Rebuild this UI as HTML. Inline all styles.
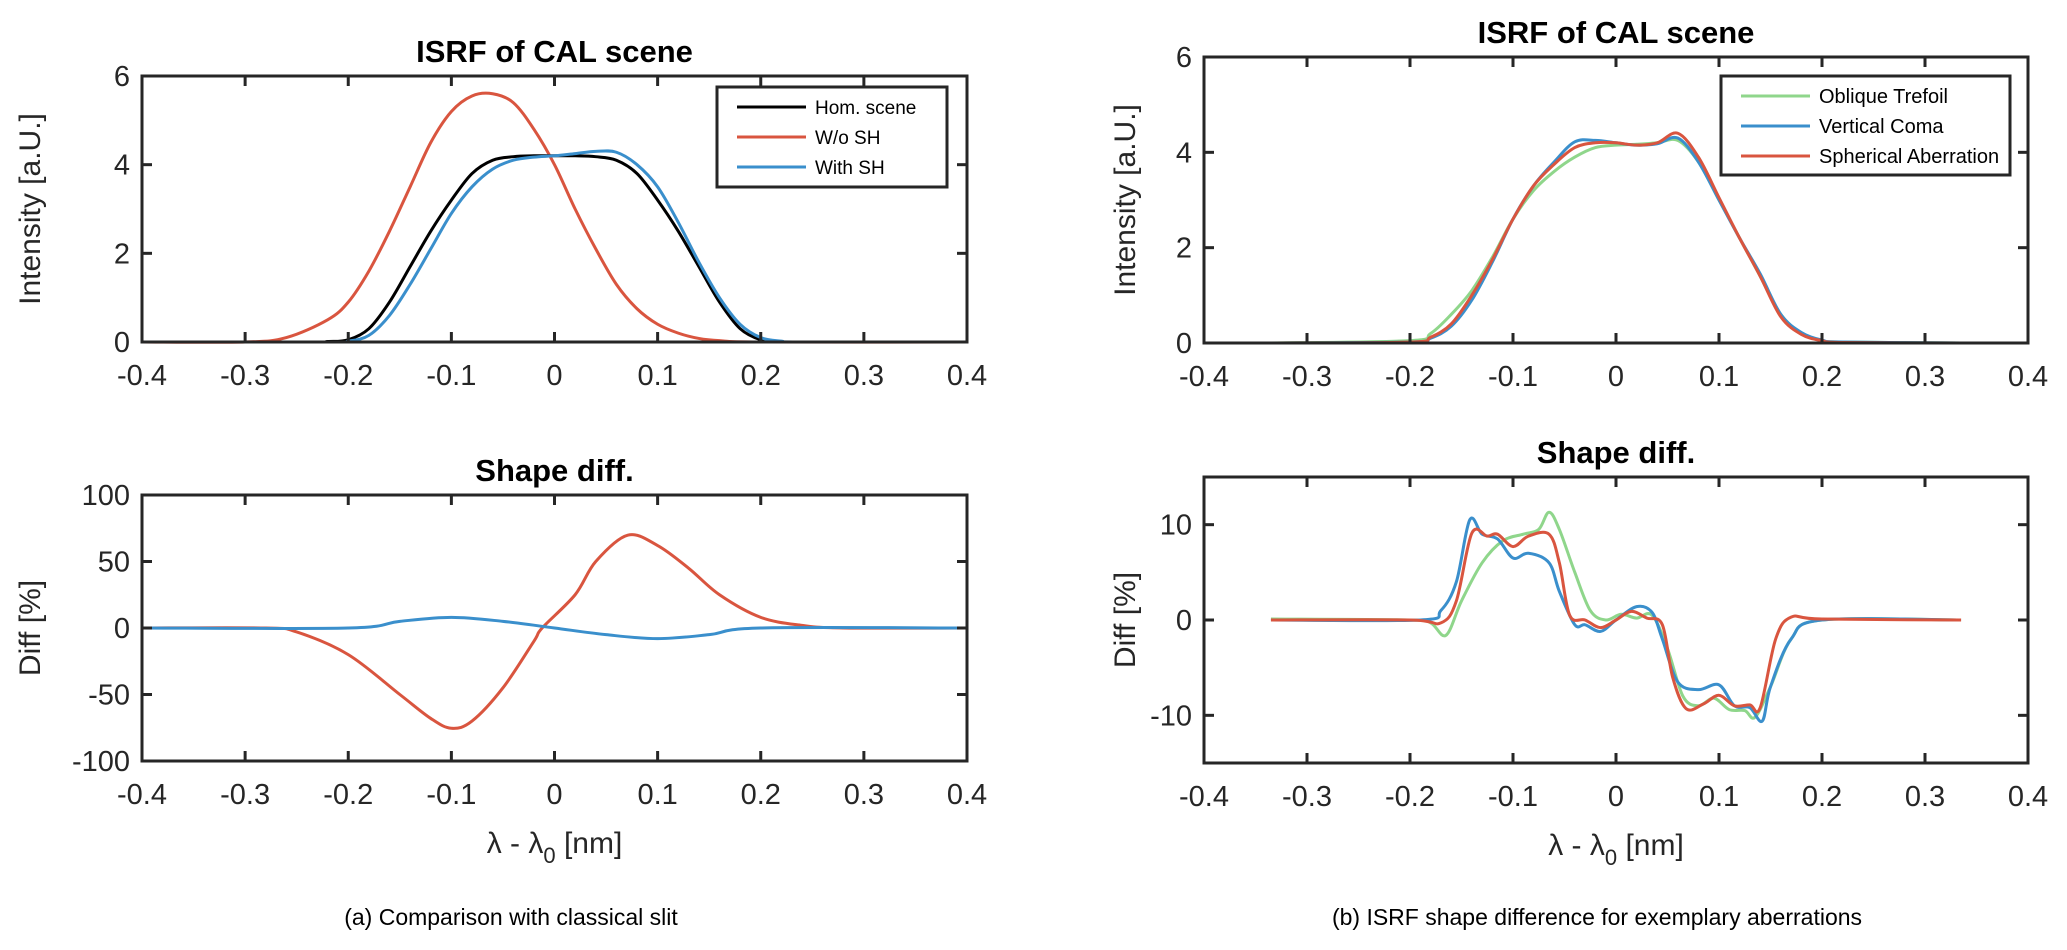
<!DOCTYPE html>
<html><head><meta charset="utf-8"><style>
html,body{margin:0;padding:0;background:#fff;}
svg{display:block;font-family:"Liberation Sans",Arial,sans-serif;}
</style></head><body>
<svg id="fig" width="2067" height="950" viewBox="0 0 2067 950" xmlns="http://www.w3.org/2000/svg"></svg>
<script>
// ---------- data ----------
const xTicks = [-0.4,-0.3,-0.2,-0.1,0,0.1,0.2,0.3,0.4];
const xTickLabels = ["-0.4","-0.3","-0.2","-0.1","0","0.1","0.2","0.3","0.4"];
const yTicksIsrf = [0,2,4,6];
const yTicksDiffA = [-100,-50,0,50,100];
const yTicksDiffB = [-10,0,10];

// (a) top
const homX = [-0.4,-0.24,-0.22,-0.2,-0.18,-0.16,-0.14,-0.12,-0.1,-0.08,-0.06,-0.04,-0.02,0,0.02,0.04,0.06,0.08,0.1,0.12,0.14,0.16,0.18,0.2,0.22,0.24,0.4];
const homY = [0,0,0.01,0.05,0.3,0.9,1.7,2.5,3.2,3.8,4.1,4.18,4.2,4.2,4.2,4.18,4.1,3.8,3.2,2.5,1.7,0.9,0.3,0.05,0.01,0,0];
const woX = [-0.4,-0.3,-0.26,-0.22,-0.2,-0.18,-0.16,-0.14,-0.12,-0.1,-0.08,-0.06,-0.04,-0.02,0,0.02,0.04,0.06,0.08,0.1,0.12,0.14,0.16,0.2,0.4];
const woY = [0,0,0.1,0.5,0.9,1.6,2.5,3.5,4.5,5.2,5.55,5.6,5.4,4.8,4.0,3.0,2.1,1.3,0.75,0.4,0.2,0.08,0.03,0,0];
const wiX = [-0.4,-0.22,-0.2,-0.18,-0.16,-0.14,-0.12,-0.1,-0.08,-0.06,-0.04,-0.02,0,0.02,0.04,0.06,0.08,0.1,0.12,0.14,0.16,0.18,0.2,0.22,0.24,0.4];
const wiY = [0,0,0.02,0.15,0.6,1.3,2.1,2.9,3.5,3.9,4.1,4.17,4.2,4.25,4.3,4.28,4.0,3.5,2.7,1.8,1.0,0.4,0.1,0.02,0,0];
// (a) bottom
const dRedX = [-0.4,-0.28,-0.25,-0.2,-0.15,-0.12,-0.1,-0.08,-0.05,-0.02,-0.012,0.02,0.04,0.071,0.1,0.13,0.16,0.2,0.24,0.28,0.4];
const dRedY = [0,0,-3,-20,-50,-68,-75.4,-70,-45,-10,0,25,50,69.8,62,45,25,8,2,0,0];
const dBluX = [-0.4,-0.2,-0.15,-0.1,-0.05,0,0.05,0.1,0.15,0.2,0.4];
const dBluY = [0,0,5,8,5,0,-5,-8,-5,0,0];

// (b) top
const tX = [-0.335,-0.2,-0.18,-0.16,-0.14,-0.12,-0.1,-0.08,-0.06,-0.04,-0.02,0,0.02,0.04,0.06,0.08,0.1,0.12,0.14,0.16,0.18,0.2,0.22,0.335];
const trefY = [0,0.05,0.2,0.6,1.1,1.8,2.6,3.2,3.6,3.9,4.1,4.15,4.17,4.2,4.25,3.8,3.0,2.2,1.4,0.6,0.2,0.05,0.02,0];
const comaY = [0,0.02,0.1,0.35,0.9,1.7,2.6,3.3,3.8,4.22,4.25,4.2,4.15,4.18,4.3,3.8,3.0,2.2,1.45,0.6,0.22,0.06,0.02,0];
const sphY = [0,0.02,0.12,0.4,1.0,1.75,2.6,3.3,3.75,4.1,4.2,4.2,4.15,4.2,4.4,3.9,3.05,2.2,1.4,0.55,0.18,0.05,0.01,0];
// (b) bottom
const bBluX = [-0.335,-0.19,-0.17,-0.155,-0.142,-0.13,-0.115,-0.1,-0.085,-0.065,-0.055,-0.04,-0.03,-0.015,0,0.02,0.035,0.045,0.06,0.08,0.1,0.115,0.13,0.142,0.15,0.17,0.2,0.335];
const bBluY = [0,0,1,4,10.5,9,8.5,6.5,7,6,3,-0.5,-0.5,-1.2,0,1.4,0.8,-2,-6.5,-7.3,-6.8,-9,-9.2,-10.6,-7,-2,0,0];
const bRedX = [-0.335,-0.2,-0.17,-0.155,-0.14,-0.125,-0.115,-0.1,-0.085,-0.065,-0.055,-0.045,-0.03,-0.015,0,0.015,0.03,0.045,0.055,0.068,0.085,0.1,0.115,0.13,0.14,0.155,0.17,0.2,0.335];
const bRedY = [0,0,-0.3,2,9.1,8.8,9,7.7,8.8,9,6,0.5,0,-0.8,0,0.9,0.2,-0.5,-6,-9.3,-8.8,-7.9,-9,-8.9,-9.2,-2,0.3,0.1,0];
const bGrnX = [-0.335,-0.2,-0.18,-0.165,-0.15,-0.13,-0.11,-0.09,-0.075,-0.065,-0.055,-0.04,-0.025,-0.01,0.005,0.02,0.035,0.05,0.065,0.08,0.095,0.11,0.125,0.135,0.15,0.17,0.2,0.335];
const bGrnY = [0.1,0,-0.3,-1.6,2,6,8.3,9,9.5,11.3,9.5,5,1,0,0.6,0.2,0.5,-3,-8,-9,-8.2,-9.4,-9.5,-10.2,-7,-2,0,0];

const RED="#d9553f", BLUE="#3a8fcc", GREEN="#8fd68b", BLACK="#000";
const NS="http://www.w3.org/2000/svg";
const svg=document.getElementById('fig');
function mk(tag,attrs,parent){const e=document.createElementNS(NS,tag);for(const k in attrs)e.setAttribute(k,attrs[k]);(parent||svg).appendChild(e);return e;}
function txt(s,attrs,parent){const e=mk('text',attrs,parent);e.textContent=s;return e;}

function smoothPath(pts){
  let d=`M${pts[0][0].toFixed(2)},${pts[0][1].toFixed(2)}`;
  for(let i=0;i<pts.length-1;i++){
    const p0=pts[Math.max(0,i-1)],p1=pts[i],p2=pts[i+1],p3=pts[Math.min(pts.length-1,i+2)];
    const c1x=p1[0]+(p2[0]-p0[0])/6,c1y=p1[1]+(p2[1]-p0[1])/6;
    const c2x=p2[0]-(p3[0]-p1[0])/6,c2y=p2[1]-(p3[1]-p1[1])/6;
    d+=` C${c1x.toFixed(2)},${c1y.toFixed(2)} ${c2x.toFixed(2)},${c2y.toFixed(2)} ${p2[0].toFixed(2)},${p2[1].toFixed(2)}`;
  }
  return d;
}

function axes(cfg){
  const g=mk('g',{});
  
  
  const {x0,x1,y0,y1,ymin,ymax}=cfg;
  const sx=v=>x0+(v+0.4)/0.8*(x1-x0);
  const sy=v=>y1-(v-ymin)/(ymax-ymin)*(y1-y0);
  // series
  cfg.series.forEach(s=>{
    const pts=s.x.map((v,i)=>[sx(v),sy(s.y[i])]);
    const p=mk('path',{d:smoothPath(pts),fill:'none',stroke:s.color,'stroke-width':3,'stroke-linejoin':'round'},g);
    
    
  });
  // box
  const box=mk('rect',{x:x0,y:y0,width:x1-x0,height:y1-y0,fill:'none',stroke:'#262626','stroke-width':3},g);
  
  
  xTicks.forEach((v,i)=>{
    const X=sx(v);
    mk('line',{x1:X,y1:y1,x2:X,y2:y1-10,stroke:'#262626','stroke-width':3},g);
    mk('line',{x1:X,y1:y0,x2:X,y2:y0+10,stroke:'#262626','stroke-width':3},g);
    const t=txt(xTickLabels[i],{x:X,y:y1+43,'font-size':29,'text-anchor':'middle',fill:'#262626'},g);
    
    
  });
  cfg.yticks.forEach(v=>{
    const Y=sy(v);
    mk('line',{x1:x0,y1:Y,x2:x0+10,y2:Y,stroke:'#262626','stroke-width':3},g);
    mk('line',{x1:x1,y1:Y,x2:x1-10,y2:Y,stroke:'#262626','stroke-width':3},g);
    const t=txt(String(v),{x:x0-12,y:Y+10,'font-size':29,'text-anchor':'end',fill:'#262626'},g);
    
    
  });
  const ti=txt(cfg.title,{x:(x0+x1)/2,y:y0-14,'font-size':31,'font-weight':'bold','text-anchor':'middle',fill:'#000'},g);
  
  
  const yl=txt(cfg.ylabel,{x:0,y:0,'font-size':30,'text-anchor':'middle',fill:'#262626',transform:`translate(${cfg.ylx},${(y0+y1)/2}) rotate(-90)`},g);
  
  
  if(cfg.xlabel){
    const xl=mk('text',{x:(x0+x1)/2,y:y1+92,'font-size':30,'text-anchor':'middle',fill:'#262626'},g);
    
    
    xl.innerHTML='λ - λ<tspan dy="10" font-size="22">0</tspan><tspan dy="-10"> [nm]</tspan>';
  }
  if(cfg.legend){
    const L=cfg.legend;
    const lg=mk('g',{},g);
    
    
    mk('rect',{x:L.x,y:L.y,width:L.w,height:L.h,fill:'#fff',stroke:'#262626','stroke-width':3},lg);
    L.items.forEach((it,i)=>{
      const Y=L.y+20+i*30;
      const e=mk('g',{},lg);
      
      
      mk('line',{x1:L.x+20,y1:Y,x2:L.x+89,y2:Y,stroke:it.color,'stroke-width':3},e);
      txt(it.label,{x:L.x+98,y:Y+7,'font-size':L.fs,fill:'#000'},e);
    });
  }
}

axes({name:'axes-a-isrf',x0:142,x1:967,y0:76,y1:342,ymin:0,ymax:6,yticks:yTicksIsrf,title:'ISRF of CAL scene',ylabel:'Intensity [a.U.]',ylx:40,
  series:[{name:'line-w-o-sh',x:woX,y:woY,color:RED},{name:'line-hom-scene',x:homX,y:homY,color:BLACK},{name:'line-with-sh',x:wiX,y:wiY,color:BLUE}],
  legend:{x:717,y:87,w:230,h:100,fs:19,items:[{label:'Hom. scene',color:BLACK},{label:'W/o SH',color:RED},{label:'With SH',color:BLUE}]}});
axes({name:'axes-a-diff',x0:142,x1:967,y0:495,y1:761,ymin:-100,ymax:100,yticks:yTicksDiffA,title:'Shape diff.',ylabel:'Diff [%]',ylx:40,xlabel:true,
  series:[{name:'line-diff-w-o-sh',x:dRedX,y:dRedY,color:RED},{name:'line-diff-with-sh',x:dBluX,y:dBluY,color:BLUE}]});
axes({name:'axes-b-isrf',x0:1204,x1:2028,y0:57,y1:343,ymin:0,ymax:6,yticks:yTicksIsrf,title:'ISRF of CAL scene',ylabel:'Intensity [a.U.]',ylx:1135,
  series:[{name:'line-oblique-trefoil',x:tX,y:trefY,color:GREEN},{name:'line-vertical-coma',x:tX,y:comaY,color:BLUE},{name:'line-spherical-aberration',x:tX,y:sphY,color:RED}],
  legend:{x:1721,y:76,w:289,h:99,fs:20,items:[{label:'Oblique Trefoil',color:GREEN},{label:'Vertical Coma',color:BLUE},{label:'Spherical Aberration',color:RED}]}});
axes({name:'axes-b-diff',x0:1204,x1:2028,y0:477,y1:763,ymin:-15,ymax:15,yticks:yTicksDiffB,title:'Shape diff.',ylabel:'Diff [%]',ylx:1135,xlabel:true,
  series:[{name:'line-diff-trefoil',x:bGrnX,y:bGrnY,color:GREEN},{name:'line-diff-coma',x:bBluX,y:bBluY,color:BLUE},{name:'line-diff-spherical',x:bRedX,y:bRedY,color:RED}]});

const c1=txt('(a) Comparison with classical slit',{x:511,y:925,'font-size':23,'text-anchor':'middle',fill:'#000'});


const c2=txt('(b) ISRF shape difference for exemplary aberrations',{x:1597,y:925,'font-size':23,'text-anchor':'middle',fill:'#000'});


</script>
</body></html>
